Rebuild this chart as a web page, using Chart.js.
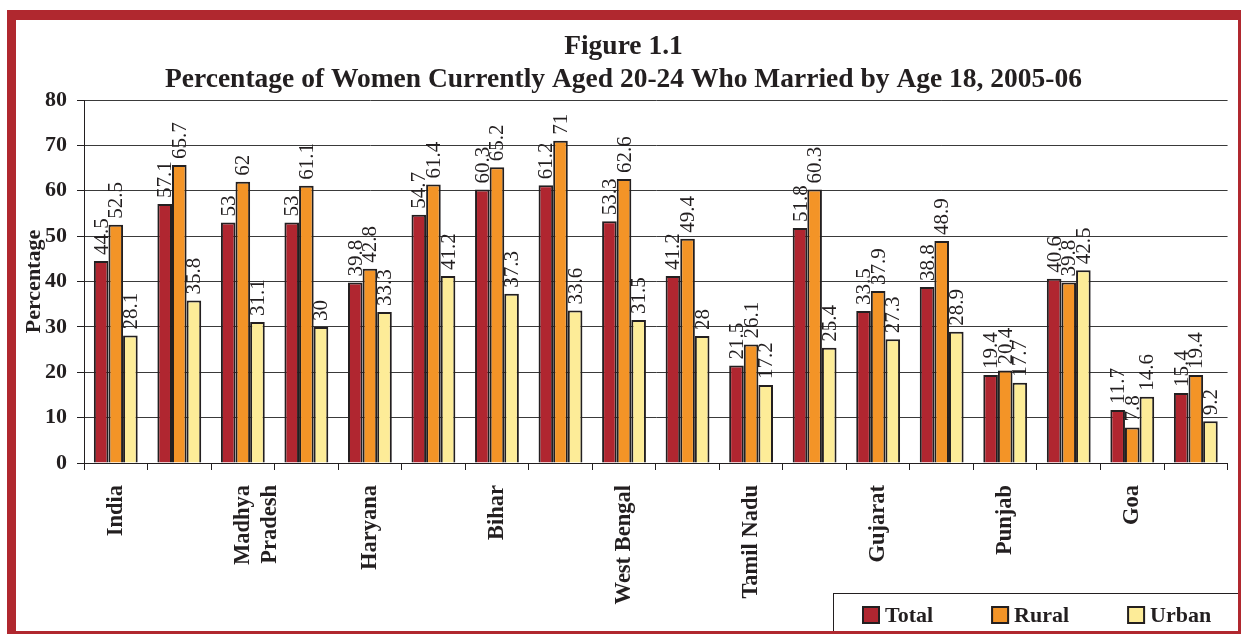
<!DOCTYPE html>
<html>
<head>
<meta charset="utf-8">
<script src="https://cdn.jsdelivr.net/npm/chart.js@4.4.1/dist/chart.umd.min.js"></script>
<style>
  html, body { margin: 0; padding: 0; background: #fff; }
  #frame {
    position: absolute; left: 7px; top: 10px;
    width: 1222px; height: 611px;
    border-left: 9px solid #b0282f; border-top: 10px solid #b0282f;
    border-right: 3px solid #b0282f; border-bottom: 3px solid #b0282f;
  }
  #wrap { position: relative; width: 1222px; height: 611px; }
</style>
</head>
<body>
<div id="frame"><div id="wrap"><canvas id="marriageChart"></canvas></div></div>
<script>
// ── data ────────────────────────────────────────────────
const STATES = ['India', '', ['Madhya', 'Pradesh'], '', 'Haryana', '', 'Bihar', '',
  'West Bengal', '', 'Tamil Nadu', '', 'Gujarat', '', 'Punjab', '', 'Goa', ''];
const TOTAL = [44.5, 57.1, 53, 53, 39.8, 54.7, 60.3, 61.2, 53.3, 41.2, 21.5, 51.8, 33.5, 38.8, 19.4, 40.6, 11.7, 15.4];
const RURAL = [52.5, 65.7, 62, 61.1, 42.8, 61.4, 65.2, 71, 62.6, 49.4, 26.1, 60.3, 37.9, 48.9, 20.4, 39.8, 7.8, 19.4];
const URBAN = [28.1, 35.8, 31.1, 30, 33.3, 41.2, 37.3, 33.6, 31.5, 28, 17.2, 25.4, 27.3, 28.9, 17.7, 42.5, 14.6, 9.2];
const Y_MIN = 0, Y_MAX = 80, Y_STEP = 10;

const SERIF = '"Liberation Serif", "Times New Roman", serif';
const INK = '#231f20';

// value printed vertically above each bar
const barValues = {
  id: 'barValues',
  afterDatasetsDraw(chart) {
    const ctx = chart.ctx;
    ctx.save();
    ctx.font = '21px ' + SERIF;
    ctx.fillStyle = INK;
    ctx.textAlign = 'left';
    ctx.textBaseline = 'middle';
    chart.data.datasets.forEach((ds, i) => {
      chart.getDatasetMeta(i).data.forEach((bar, j) => {
        ctx.save();
        ctx.translate(bar.x + 1, bar.y - 6);
        ctx.rotate(-Math.PI / 2);
        ctx.fillText(String(ds.data[j]), 0, 0);
        ctx.restore();
      });
    });
    ctx.restore();
  }
};

// boxed legend in the bottom-right corner
const boxedLegend = {
  id: 'boxedLegend',
  afterDraw(chart) {
    const ctx = chart.ctx;
    const left = 817, top = 573, right = chart.width + 1, bottom = chart.height + 1;
    ctx.save();
    ctx.fillStyle = '#fff';
    ctx.fillRect(left, top, right - left, bottom - top);
    ctx.strokeStyle = INK;
    ctx.lineWidth = 1;
    ctx.strokeRect(left + 0.5, top + 0.5, right - left, bottom - top);
    ctx.font = 'bold 22px ' + SERIF;
    ctx.textBaseline = 'middle';
    let x = left + 29;
    const cy = 595;
    chart.data.datasets.forEach(ds => {
      ctx.fillStyle = ds.backgroundColor;
      ctx.fillRect(x, cy - 9, 18, 18);
      ctx.strokeStyle = INK;
      ctx.lineWidth = 2;
      ctx.strokeRect(x + 1, cy - 8, 16, 16);
      ctx.fillStyle = INK;
      ctx.fillText(ds.label, x + 23, cy + 1);
      x += 23 + ctx.measureText(ds.label).width + 58;
    });
    ctx.restore();
  }
};

const barStyle = { borderColor: INK, borderWidth: 2, categoryPercentage: 0.69, barPercentage: 1 };

new Chart(document.getElementById('marriageChart'), {
  type: 'bar',
  data: {
    labels: STATES,
    datasets: [
      { label: 'Total', data: TOTAL, backgroundColor: '#b02630', ...barStyle },
      { label: 'Rural', data: RURAL, backgroundColor: '#f39427', ...barStyle },
      { label: 'Urban', data: URBAN, backgroundColor: '#fdec98', ...barStyle }
    ]
  },
  options: {
    responsive: true,
    maintainAspectRatio: false,
    animation: false,
    layout: { padding: { left: 0, right: 7, top: 0, bottom: 8 } },
    plugins: {
      legend: { display: false },
      tooltip: { enabled: false },
      title: {
        display: true,
        text: ['Figure 1.1', 'Percentage of Women Currently Aged 20-24 Who Married by Age 18, 2005-06'],
        color: INK,
        font: { family: SERIF, size: 27.5, weight: 'bold', lineHeight: 33 / 27.5 },
        padding: { top: 10, bottom: 4 }
      }
    },
    scales: {
      x: {
        grid: { drawOnChartArea: false, drawTicks: true, tickLength: 7, color: INK, offset: true },
        border: { color: INK, width: 1 },
        ticks: {
          autoSkip: false, minRotation: 90, maxRotation: 90, padding: 15,
          color: INK, font: { family: SERIF, size: 22.5, weight: 'bold' }
        },
        afterFit: s => { s.height = 160; }
      },
      y: {
        min: Y_MIN, max: Y_MAX,
        grid: { color: '#3a3a3a', tickColor: INK, tickLength: 7 },
        border: { color: INK, width: 1 },
        ticks: { stepSize: Y_STEP, padding: 10, color: INK, font: { family: SERIF, size: 22, weight: 'bold' } },
        title: {
          display: true, text: 'Percentage', color: INK,
          font: { family: SERIF, size: 22, weight: 'bold' },
          padding: { top: 5, bottom: 0 }
        },
        afterFit: s => { s.width = 68; }
      }
    }
  },
  plugins: [barValues, boxedLegend]
});
</script>
</body>
</html>
